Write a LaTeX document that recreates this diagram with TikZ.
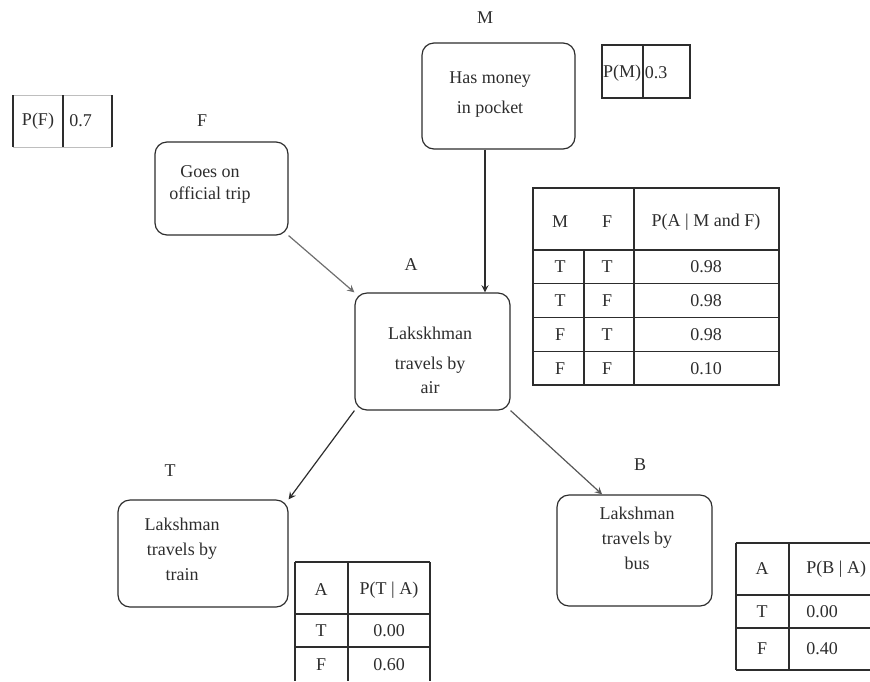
\documentclass[tikz,border=0pt]{standalone}
\usepackage{fontspec}
\setmainfont{Liberation Serif}
\definecolor{scanink}{RGB}{45,45,45}
\definecolor{scangray}{RGB}{110,110,110}

\begin{document}
\begin{tikzpicture}[x=.5pt,y=-.5pt,font=\fontsize{9}{11}\selectfont,>=stealth,
    evbox/.style={draw=scanink,rounded corners=6pt,line width=.6pt},
    evtext/.style={align=center,text=scanink,inner sep=0pt},
    evlabel/.style={text=scanink,inner sep=1pt},
    rule/.style={draw=scanink,line width=.6pt},
    faintrule/.style={draw=scangray!45,line width=.5pt},
    cell/.style={text=scanink,inner sep=1pt}]
  \useasboundingbox (0,0) rectangle (870,681);

  % event boxes
  \node[evbox,minimum width=66.5pt,minimum height=46.5pt] (trip) at (221.5,188.5) {};
  \node[evbox,minimum width=76.5pt,minimum height=53pt] (money) at (498.5,96) {};
  \node[evbox,minimum width=77.5pt,minimum height=58.5pt] (air) at (432.5,351.5) {};
  \node[evbox,minimum width=85pt,minimum height=53.5pt] (train) at (203,553.5) {};
  \node[evbox,minimum width=77.5pt,minimum height=55.5pt] (bus) at (634.5,550.5) {};

  \node[evtext,font=\fontsize{9}{11}\selectfont] (triptext) at (210,184) {Goes on\\official trip};
  \node[evtext,font=\fontsize{9}{15}\selectfont] (moneytext) at (490,95) {Has money\\in pocket};
  \node[evtext,font=\fontsize{9}{12}\selectfont] (airtext) at (430,360) {Lakskhman\\[3pt]travels by\\air};
  \node[evtext,font=\fontsize{9}{12.5}\selectfont] (traintext) at (182,549) {Lakshman\\travels by\\train};
  \node[evtext,font=\fontsize{9}{12.5}\selectfont] (bustext) at (637,538) {Lakshman\\travels by\\bus};

  % variable names
  \node[evlabel] (flabel) at (202,121) {F};
  \node[evlabel] (mlabel) at (485,18) {M};
  \node[evlabel] (alabel) at (411,265) {A};
  \node[evlabel] (tlabel) at (170,471) {T};
  \node[evlabel] (blabel) at (640,465) {B};

  % arcs
  \draw[->,scangray,line width=.6pt] (trip.south east) -- (air.north west);
  \draw[->,scanink,line width=.6pt] (money.south -| mlabel) -- (air.north -| mlabel);
  \draw[->,scanink,line width=.6pt] (air.south west) -- (train.north east);
  \draw[->,scanink!80,line width=.6pt] (air.south east) -- (bus.120);

  % P(F)
  \draw[faintrule] (13,95) -- (112,95) (13,147) -- (112,147);
  \foreach \x in {13,63,112} {
    \draw[rule] (\x,95) -- (\x,147);
  }
  \node[cell] (pf) at (38,121) {P(F)};
  \node[cell,anchor=west] (pfval) at (67,121) {0.7};

  % P(M)
  \draw[rule] (602,45) rectangle (690,98);
  \draw[rule] (643,45) -- (643,98);
  \node[cell] (pm) at (622,73) {P(M)};
  \node[cell] (pmval) at (656,73) {0.3};

  % P(A | M and F)
  \draw[rule] (533,188) rectangle (779,385);
  \draw[rule] (634,188) -- (634,385);
  \draw[rule] (584,250) -- (584,385);
  \foreach \y in {250,283.75,317.5,351.25} {
    \draw[rule] (533,\y) -- (779,\y);
  }
  \node[cell] (am) at (560,222) {M};
  \node[cell] (af) at (607,222) {F};
  \node[cell] (ap) at (706,222) {P(A | M and F)};
  \foreach \m/\f/\p [count=\i] in {T/T/0.98,T/F/0.98,F/T/0.98,F/F/0.10} {
    \pgfmathsetmacro\y{233.15+\i*33.75}
    \node[cell] (am\i) at (560,\y) {\m};
    \node[cell] (af\i) at (607,\y) {\f};
    \node[cell] (ap\i) at (706,\y) {\p};
  }

  % P(T | A)
  \foreach \y in {562,614,647} {
    \draw[rule] (295,\y) -- (430,\y);
  }
  \foreach \x in {295,348,430} {
    \draw[rule] (\x,562) -- (\x,681);
  }
  \node[cell] (ta) at (321,590) {A};
  \node[cell] (tp) at (389,590) {P(T | A)};
  \node[cell] (ta1) at (321,631) {T};
  \node[cell] (tp1) at (389,631) {0.00};
  \node[cell] (ta2) at (321,665) {F};
  \node[cell] (tp2) at (389,665) {0.60};

  % P(B | A)
  \foreach \y in {543,595,628,670} {
    \draw[rule] (736,\y) -- (870,\y);
  }
  \foreach \x in {736,789} {
    \draw[rule] (\x,543) -- (\x,670);
  }
  \node[cell] (ba) at (762,569) {A};
  \node[cell,anchor=west] (bp) at (804,569) {P(B | A)};
  \node[cell] (ba1) at (762,611.5) {T};
  \node[cell,anchor=west] (bp1) at (804,611.5) {0.00};
  \node[cell] (ba2) at (762,649) {F};
  \node[cell,anchor=west] (bp2) at (804,649) {0.40};
\end{tikzpicture}
\end{document}
